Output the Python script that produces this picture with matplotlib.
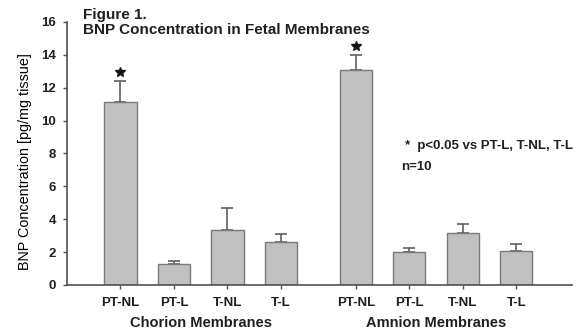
import matplotlib
matplotlib.use('Agg')
import matplotlib.pyplot as plt
import numpy as np

plt.rcParams['font.family'] = ['Liberation Sans', 'DejaVu Sans']

groups = ['Chorion Membranes', 'Amnion Membranes']
categories = ['PT-NL', 'PT-L', 'T-NL', 'T-L']
chorion_mean = [11.15, 1.28, 3.34, 2.60]
chorion_err = [1.23, 0.20, 1.32, 0.48]
amnion_mean = [13.07, 2.00, 3.14, 2.07]
amnion_err = [0.90, 0.23, 0.55, 0.40]
significant = [True, False, False, False]

x_chorion = np.arange(1, 5)
x_amnion = x_chorion + 4.4

fig = plt.figure(figsize=(5.82, 3.30), dpi=100)
ax = fig.add_axes([0.1151, 0.1364, 0.8677, 0.797])

bar_kw = dict(width=0.6, color='#c0c0c0', edgecolor='#7a7a7a', linewidth=1.0, zorder=2)
err_kw = dict(ecolor='#606060', elinewidth=1.2, capthick=1.2, capsize=4, zorder=1)
for xs, m, e in [(x_chorion, chorion_mean, chorion_err), (x_amnion, amnion_mean, amnion_err)]:
    lower = np.zeros(len(e))
    ax.bar(xs, m, yerr=[lower, e], error_kw=err_kw, **bar_kw)
    for xi, mi, ei, s in zip(xs, m, e, significant):
        if s:
            # significance star just above the error bar
            ax.plot(xi, mi + ei + 0.58, marker='*', markersize=7,
                    color='#151515', linestyle='none', zorder=3)

ax.set_xlim(0, 9.44)
ax.set_ylim(0, 16)
ax.set_yticks(range(0, 17, 2))
ax.set_xticks(list(x_chorion) + list(x_amnion))
ax.set_xticklabels(categories * 2, fontsize=9.5, fontweight='bold', color='#202020')
ax.tick_params(axis='y', labelsize=9.5, length=3, width=1, color='#505050',
               labelcolor='#202020', pad=5)
for lab in ax.get_yticklabels():
    lab.set_fontweight('bold')
ax.tick_params(axis='x', length=3, width=1, color='#505050', pad=6)

for side in ['top', 'right']:
    ax.spines[side].set_visible(False)
for side in ['left', 'bottom']:
    ax.spines[side].set_color('#505050')
    ax.spines[side].set_linewidth(1.2)

ax.set_ylabel('BNP Concentration [pg/mg tissue]', fontsize=10.4)
ax.yaxis.set_label_coords(-0.069, 0.471)

ax.text(np.mean(x_chorion), -2.3, groups[0], ha='center', va='center',
        fontsize=10.5, fontweight='bold', color='#202020')
ax.text(np.mean(x_amnion), -2.3, groups[1], ha='center', va='center',
        fontsize=10.5, fontweight='bold', color='#202020')

fig.text(83 / 582, 1 - 15 / 330, 'Figure 1.', ha='left', va='center',
         fontsize=11, fontweight='bold', color='#202020')
fig.text(83 / 582, 1 - 30 / 330, 'BNP Concentration in Fetal Membranes', ha='left',
         va='center', fontsize=11, fontweight='bold', color='#202020')

ax.text(6.32, 8.45, '*  p<0.05 vs PT-L, T-NL, T-L', ha='left', va='center',
        fontsize=9.5, fontweight='bold', color='#202020')
ax.text(6.24, 7.17, 'n=10', ha='left', va='center',
        fontsize=9.5, fontweight='bold', color='#202020')

fig.savefig('out.png', dpi=100)
